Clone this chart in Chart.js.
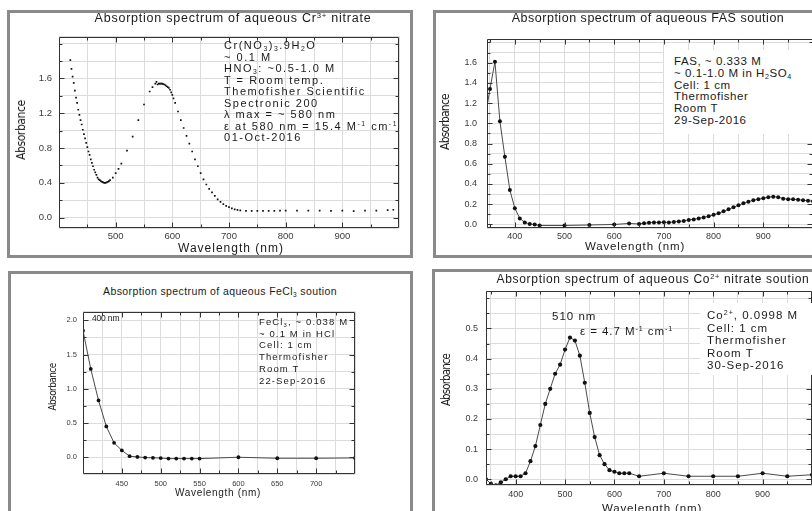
<!DOCTYPE html>
<html><head><meta charset="utf-8">
<script src="https://cdn.jsdelivr.net/npm/chart.js@4.4.1/dist/chart.umd.min.js"></script>
<style>
html,body{margin:0;padding:0;background:#fff;}
body{width:812px;height:511px;overflow:hidden;position:relative;font-family:"Liberation Sans",Arial,Helvetica,sans-serif;color:#1a1a1a;}
.frame{position:absolute;border:3px solid #8a8a8a;box-sizing:border-box;}
canvas{position:absolute;}
.ttl{position:absolute;white-space:nowrap;line-height:1;transform:translateX(-50%);color:#1a1a1a;}
.ann{position:absolute;white-space:nowrap;color:#1a1a1a;}
.box{position:absolute;background:#fff;}
.xt{position:absolute;white-space:nowrap;line-height:1;transform:translateX(-50%);color:#1a1a1a;}
.yt{position:absolute;white-space:nowrap;line-height:1;transform:translate(-50%,-50%) rotate(-90deg);color:#1a1a1a;font-family:"Liberation Sans Narrow","DejaVu Sans Condensed",Arial,sans-serif;}
sub,sup{font-size:0.62em;line-height:0;position:relative;vertical-align:baseline;}
sub{top:0.35em;} sup{top:-0.55em;}
</style></head>
<body>
<div class="frame" style="left:7px;top:10px;width:406px;height:248px"></div>
<div class="frame" style="left:433px;top:10px;width:400px;height:248px"></div>
<div class="frame" style="left:8px;top:271px;width:405px;height:260px"></div>
<div class="frame" style="left:432px;top:269px;width:400px;height:260px"></div>

<canvas id="c1"></canvas>
<canvas id="c2"></canvas>
<canvas id="c3"></canvas>
<canvas id="c4"></canvas>

<!-- titles -->
<div class="ttl" style="left:233px;top:12px;font-size:12.5px" data-fit="277">Absorption spectrum of aqueous Cr<sup>3+</sup> nitrate</div>
<div class="ttl" style="left:648px;top:12px;font-size:12.5px" data-fit="273">Absorption spectrum of aqueous FAS soution</div>
<div class="ttl" style="left:220px;top:286px;font-size:10.5px" data-fit="234">Absorption spectrum of aqueous FeCl<sub>3</sub> soution</div>
<div class="ttl" style="left:653px;top:273px;font-size:12px" data-fit="313">Absorption spectrum of aqueous Co<sup>2+</sup> nitrate soution</div>

<!-- axis titles -->
<div class="yt" style="left:21px;top:130px;font-size:12px" data-fit="60">Absorbance</div>
<div class="yt" style="left:445px;top:122px;font-size:12px" data-fit="56">Absorbance</div>
<div class="yt" style="left:53px;top:387px;font-size:10px" data-fit="47">Absorbance</div>
<div class="yt" style="left:447px;top:380px;font-size:11.5px" data-fit="52">Absorbance</div>
<div class="xt" style="left:231px;top:242px;font-size:12px" data-fit="106">Wavelength (nm)</div>
<div class="xt" style="left:635px;top:241px;font-size:11.5px" data-fit="100">Wavelength (nm)</div>
<div class="xt" style="left:218px;top:488px;font-size:10px" data-fit="86">Wavelength (nm)</div>
<div class="xt" style="left:652px;top:503px;font-size:11.5px" data-fit="100">Wavelength (nm)</div>

<!-- annotations -->
<div class="ann" style="left:224px;top:40px;font-size:11px;line-height:11.5px" data-fitblock="174">
<span>Cr(NO<sub>3</sub>)<sub>3</sub>.9H<sub>2</sub>O</span><br>
<span>~ 0.1 M</span><br>
<span>HNO<sub>3</sub>: ~0.5-1.0 M</span><br>
<span>T = Room temp.</span><br>
<span>Themofisher Scientific</span><br>
<span>Spectronic 200</span><br>
<span>λ max = ~ 580 nm</span><br>
<span>ε at 580 nm = 15.4 M<sup>-1</sup> cm<sup>-1</sup></span><br>
<span>01-Oct-2016</span>
</div>

<div class="box" style="left:664px;top:50px;width:150px;height:84px"></div>
<div class="ann" style="left:674px;top:56px;font-size:11.5px;line-height:11.8px" data-fitblock="118">
<span>FAS, ~ 0.333 M</span><br>
<span>~ 0.1-1.0 M in H<sub>2</sub>SO<sub>4</sub></span><br>
<span>Cell: 1 cm</span><br>
<span>Thermofisher</span><br>
<span>Room T</span><br>
<span>29-Sep-2016</span>
</div>

<div class="ann" style="left:92px;top:313px;font-size:8.5px;line-height:10px" data-fitblock="27"><span>400 nm</span></div>
<div class="ann" style="left:259px;top:316px;font-size:9.5px;line-height:11.7px" data-fitblock="89">
<span>FeCl<sub>3</sub>, ~ 0.038 M</span><br>
<span>~ 0.1 M in HCl</span><br>
<span>Cell: 1 cm</span><br>
<span>Thermofisher</span><br>
<span>Room T</span><br>
<span>22-Sep-2016</span>
</div>

<div class="box" style="left:700px;top:303px;width:115px;height:72px"></div>
<div class="ann" style="left:707px;top:309px;font-size:11.5px;line-height:12.5px" data-fitblock="91">
<span>Co<sup>2+</sup>, 0.0998 M</span><br>
<span>Cell: 1 cm</span><br>
<span>Thermofisher</span><br>
<span>Room T</span><br>
<span>30-Sep-2016</span>
</div>
<div class="ann" style="left:552px;top:310px;font-size:11.5px;line-height:12px" data-fitblock="44"><span>510 nm</span></div>
<div class="ann" style="left:580px;top:325px;font-size:11.5px;line-height:12px" data-fitblock="93"><span>ε = 4.7 M<sup>-1</sup> cm<sup>-1</sup></span></div>

<script>
// ---------- data ----------
// Cr(NO3)3 absorption spectrum
const crWavelength = [420,422,424,426,428,430,432,434,436,438,440,442,444,446,448,450,452,454,456,458,460,462,464,466,468,470,472,474,476,478,480,482,484,486,488,490,
  495,500,505,510,520,530,540,550,560,565,570,
  572,574,576,578,580,582,584,586,588,590,592,594,596,598,600,602,605,
  610,615,620,625,630,635,640,645,650,655,660,665,670,675,680,685,690,695,700,705,710,715,720,
  730,740,750,760,770,780,790,800,820,840,860,880,900,920,940,960,980,990];
const crAbsorbance = [1.81,1.71,1.62,1.55,1.46,1.38,1.32,1.24,1.18,1.12,1.07,1.01,0.96,0.91,0.86,0.81,0.76,0.72,0.67,0.63,0.59,0.55,0.52,0.49,0.46,0.44,0.43,0.42,0.41,0.405,0.40,0.40,0.405,0.41,0.42,0.43,
  0.46,0.51,0.56,0.62,0.77,0.93,1.12,1.30,1.45,1.50,1.54,
  1.56,1.53,1.54,1.54,1.54,1.54,1.535,1.53,1.52,1.51,1.50,1.49,1.47,1.44,1.41,1.37,1.32,
  1.22,1.12,1.03,0.94,0.85,0.76,0.67,0.59,0.51,0.44,0.38,0.33,0.29,0.25,0.21,0.18,0.155,0.135,0.12,0.105,0.095,0.088,0.082,
  0.078,0.077,0.077,0.077,0.078,0.078,0.079,0.08,0.08,0.08,0.08,0.078,0.08,0.075,0.08,0.08,0.085,0.09];
const crXTickLabels = [500,600,700,800,900];
const crYTickLabels = [0,0.4,0.8,1.2,1.6];

// FAS (ferrous ammonium sulfate)
const fasWavelength = [340,350,360,370,380,390,400,410,420,430,440,450,500,550,600,630,
  650,660,670,680,690,700,710,720,730,740,750,760,770,780,790,800,810,820,830,840,850,860,870,880,890,900,910,920,930,940,950,960,970,980,990,1000];
const fasAbsorbance = [1.05,1.34,1.61,1.02,0.67,0.34,0.16,0.06,0.02,0.005,0.0,-0.01,-0.01,-0.005,0.0,0.01,
  0.005,0.012,0.016,0.02,0.02,0.022,0.02,0.025,0.03,0.035,0.045,0.05,0.06,0.07,0.08,0.095,0.11,0.13,0.15,0.17,0.19,0.21,0.225,0.24,0.25,0.26,0.27,0.275,0.27,0.255,0.25,0.25,0.245,0.24,0.235,0.23];
const fasXTickLabels = [400,500,600,700,800,900];
const fasYTickLabels = [0,0.2,0.4,0.6,0.8,1.0,1.2,1.4,1.6];

// FeCl3
const fecl3Wavelength = [400,410,420,430,440,450,460,470,480,490,500,510,520,530,540,550,600,650,700,750];
const fecl3Absorbance = [1.85,1.29,0.83,0.45,0.21,0.10,0.015,0.005,-0.005,-0.008,-0.012,-0.02,-0.02,-0.02,-0.02,-0.02,0.0,-0.015,-0.015,-0.01];
const fecl3XTickLabels = [450,500,550,600,650,700];
const fecl3YTickLabels = [0,0.5,1.0,1.5,2.0];

// Co(NO3)2
const coWavelength = [340,350,360,370,380,390,400,410,420,430,440,450,460,470,480,490,500,510,520,530,540,550,560,570,580,590,600,610,620,630,650,700,750,800,850,900,950,1000];
const coAbsorbance = [0.0,-0.015,-0.02,-0.01,0.0,0.01,0.01,0.01,0.02,0.06,0.11,0.18,0.25,0.30,0.35,0.38,0.43,0.47,0.46,0.41,0.32,0.22,0.14,0.08,0.05,0.03,0.025,0.02,0.02,0.02,0.01,0.02,0.01,0.01,0.01,0.02,0.01,0.015];
const coXTickLabels = [400,500,600,700,800,900];
const coYTickLabels = [0,0.1,0.2,0.3,0.4,0.5];

// ---------- helpers ----------
function gridValues(min, max, step) {
  const out = [min];
  let v = Math.ceil(min / step - 1e-9) * step;
  while (v < max - 1e-9) {
    const r = Math.round(v * 1e6) / 1e6;
    if (r > min + 1e-9) out.push(r);
    v += step;
  }
  out.push(max);
  return out;
}
const near = (arr, v) => arr.some(a => Math.abs(a - v) < 1e-6);

const boxTicks = {
  id: 'boxTicks',
  afterDraw(chart, args, o) {
    const {ctx, chartArea: a, scales: {x, y}} = chart;
    ctx.save();
    ctx.strokeStyle = '#333';
    ctx.lineWidth = 1;
    const L = Math.round(a.left) + 0.5, T = Math.round(a.top) + 0.5;
    const R = Math.round(a.right) - 0.5, B = Math.round(a.bottom) - 0.5;
    ctx.beginPath();
    ctx.rect(L, T, R - L, B - T);
    x.ticks.forEach(t => {
      if (t.value <= x.min + 1e-9 || t.value >= x.max - 1e-9) return;
      const px = Math.round(x.getPixelForValue(t.value)) + 0.5;
      const len = near(o.xMajor, t.value) ? 5 : 3;
      ctx.moveTo(px, B); ctx.lineTo(px, B - len);
      ctx.moveTo(px, T); ctx.lineTo(px, T + len);
    });
    y.ticks.forEach(t => {
      if (t.value <= y.min + 1e-9 || t.value >= y.max - 1e-9) return;
      const py = Math.round(y.getPixelForValue(t.value)) + 0.5;
      const len = near(o.yMajor, t.value) ? 5 : 3;
      ctx.moveTo(L, py); ctx.lineTo(L + len, py);
      ctx.moveTo(R, py); ctx.lineTo(R - len, py);
    });
    ctx.stroke();
    ctx.restore();
  }
};

function panel(o) {
  const cv = document.getElementById(o.id);
  cv.width = o.W; cv.height = o.H;
  cv.style.left = o.x0 + 'px'; cv.style.top = o.y0 + 'px';
  const xg = gridValues(o.xMin, o.xMax, o.xStep);
  const yg = gridValues(o.yMin, o.yMax, o.yStep);
  const fam = '"Liberation Sans", Arial, sans-serif';
  new Chart(cv, {
    type: 'scatter',
    data: {
      datasets: [{
        data: o.wl.map((w, i) => ({x: w, y: o.ab[i]})),
        showLine: o.line,
        borderColor: '#4a4a4a',
        borderWidth: 1,
        pointRadius: o.r,
        pointStyle: o.ps || 'circle',
        pointBackgroundColor: '#111',
        pointBorderColor: '#111',
        pointBorderWidth: 0,
        tension: 0
      }]
    },
    options: {
      responsive: false,
      animation: false,
      events: [],
      layout: {padding: {left: 0, right: 0, top: o.pt, bottom: 0}},
      plugins: {legend: {display: false}, tooltip: {enabled: false},
        boxTicks: {xMajor: o.xLab, yMajor: o.yLab}},
      scales: {
        x: {
          type: 'linear', min: o.xMin, max: o.xMax,
          afterBuildTicks: s => { s.ticks = xg.map(v => ({value: v})); },
          afterFit: s => { s.height = o.xh; },
          grid: {color: '#dcdcdc', drawTicks: false, lineWidth: 1},
          border: {display: false},
          ticks: {autoSkip: false, maxRotation: 0, padding: o.xpad, color: '#3a3a3a',
            font: {family: fam, size: o.fs},
            callback: v => near(o.xLab, v) ? String(Math.round(v)) : ''}
        },
        y: {
          type: 'linear', min: o.yMin, max: o.yMax,
          afterBuildTicks: s => { s.ticks = yg.map(v => ({value: v})); },
          afterFit: s => { s.width = o.yw; },
          grid: {color: '#dcdcdc', drawTicks: false, lineWidth: 1},
          border: {display: false},
          ticks: {autoSkip: false, padding: o.ypad, color: '#3a3a3a',
            font: {family: fam, size: o.fs},
            callback: v => near(o.yLab, v) ? (Math.abs(v) < 1e-9 ? 0 : v).toFixed(1) : ''}
        }
      }
    },
    plugins: [boxTicks]
  });
}

panel({id: 'c1', x0: 8, y0: 24, W: 395, H: 229, pt: 8, yw: 51, xh: 25,
  xMin: 400, xMax: 1000, xStep: 50, yMin: -0.12, yMax: 2.08, yStep: 0.2,
  xLab: crXTickLabels, yLab: crYTickLabels, wl: crWavelength, ab: crAbsorbance,
  line: false, r: 1.2, ps: 'rect', fs: 9.5, xpad: 3, ypad: 7});

panel({id: 'c2', x0: 435, y0: 24, W: 382, H: 229, pt: 8, yw: 52, xh: 25,
  xMin: 344, xMax: 1000, xStep: 50, yMin: -0.035, yMax: 1.83, yStep: 0.1,
  xLab: fasXTickLabels, yLab: fasYTickLabels, wl: fasWavelength, ab: fasAbsorbance,
  line: true, r: 2, fs: 9, xpad: 3, ypad: 10});

panel({id: 'c3', x0: 40, y0: 301, W: 320, H: 198, pt: 8, yw: 43, xh: 25,
  xMin: 400, xMax: 750, xStep: 25, yMin: -0.245, yMax: 2.13, yStep: 0.25,
  xLab: fecl3XTickLabels, yLab: fecl3YTickLabels, wl: fecl3Wavelength, ab: fecl3Absorbance,
  line: true, r: 1.9, fs: 7.5, xpad: 5, ypad: 6});

panel({id: 'c4', x0: 434, y0: 278, W: 382, H: 233, pt: 8, yw: 52, xh: 26,
  xMin: 340, xMax: 1000, xStep: 50, yMin: -0.019, yMax: 0.623, yStep: 0.05,
  xLab: coXTickLabels, yLab: coYTickLabels, wl: coWavelength, ab: coAbsorbance,
  line: true, r: 2.1, fs: 9, xpad: 4, ypad: 8});

// ---------- text width fitting (letter spacing) ----------
document.querySelectorAll('[data-fit]').forEach(el => {
  const target = +el.dataset.fit;
  const w = el.offsetWidth;
  const n = el.textContent.length;
  const ls = Math.max(-1, Math.min(2, (target - w) / n));
  el.style.letterSpacing = ls.toFixed(2) + 'px';
});
document.querySelectorAll('[data-fitblock]').forEach(el => {
  const target = +el.dataset.fitblock;
  let best = null, bw = 0;
  el.querySelectorAll('span').forEach(s => { if (s.offsetWidth > bw) { bw = s.offsetWidth; best = s; } });
  if (!best) return;
  const n = best.textContent.length;
  const ls = Math.max(-1, Math.min(2, (target - bw) / n));
  el.style.letterSpacing = ls.toFixed(2) + 'px';
});
</script>
</body></html>
